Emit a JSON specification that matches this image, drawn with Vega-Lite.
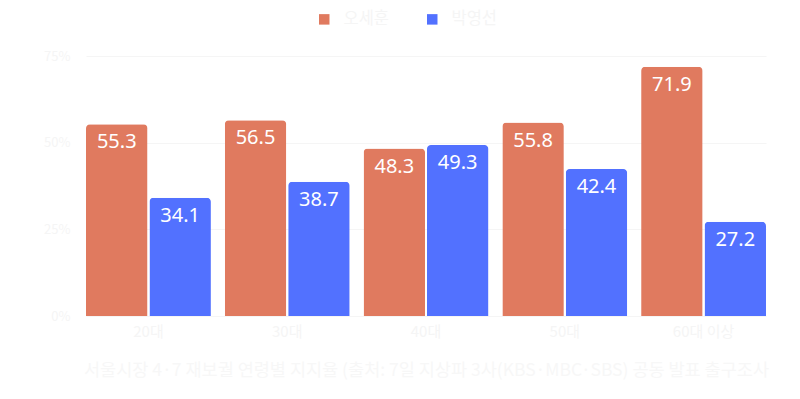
{
  "$schema": "https://vega.github.io/schema/vega-lite/v6.json",
  "autosize": {"type": "none"},
  "width": 680,
  "height": 260,
  "padding": {"left": 86, "top": 56, "right": 34, "bottom": 83},
  "background": "white",
  "config": {
    "view": {"stroke": null},
    "font": "Noto Sans",
    "axis": {"labelFont": "Noto Sans CJK KR", "titleFont": "Noto Sans CJK KR"},
    "legend": {"labelFont": "Noto Sans CJK KR"}
  },
  "data": {
    "values": [
      {"age": "20대", "candidate": "오세훈", "value": 55.3},
      {"age": "20대", "candidate": "박영선", "value": 34.1},
      {"age": "30대", "candidate": "오세훈", "value": 56.5},
      {"age": "30대", "candidate": "박영선", "value": 38.7},
      {"age": "40대", "candidate": "오세훈", "value": 48.3},
      {"age": "40대", "candidate": "박영선", "value": 49.3},
      {"age": "50대", "candidate": "오세훈", "value": 55.8},
      {"age": "50대", "candidate": "박영선", "value": 42.4},
      {"age": "60대 이상", "candidate": "오세훈", "value": 71.9},
      {"age": "60대 이상", "candidate": "박영선", "value": 27.2}
    ]
  },
  "encoding": {
    "x": {
      "field": "age", "type": "nominal",
      "sort": ["20대", "30대", "40대", "50대", "60대 이상"],
      "scale": {"paddingInner": 0.1, "paddingOuter": 0},
      "axis": {
        "labelAngle": 0, "domain": false, "ticks": false,
        "labelFontSize": 15, "labelColor": "#f5f5f5", "labelPadding": 8,
        "title": "서울시장 4·7 재보궐 연령별 지지율  (출처: 7일 지상파 3사(KBS·MBC·SBS) 공동 발표 출구조사",
        "titleFontSize": 17.5, "titleFontWeight": "normal", "titleColor": "#f7f7f7", "titlePadding": 22
      }
    },
    "xOffset": {
      "field": "candidate", "type": "nominal",
      "sort": ["오세훈", "박영선"],
      "scale": {"paddingInner": 0.03}
    },
    "y": {
      "field": "value", "type": "quantitative",
      "scale": {"domain": [0, 75]},
      "axis": {
        "values": [0, 25, 50, 75],
        "labelExpr": "datum.value + '%'",
        "domain": false, "ticks": false, "title": null,
        "labelFontSize": 13, "labelColor": "#f5f5f5", "labelPadding": 16,
        "gridColor": "#f5f5f5"
      }
    }
  },
  "layer": [
    {
      "mark": {"type": "bar", "cornerRadiusTopLeft": 4, "cornerRadiusTopRight": 4},
      "encoding": {
        "color": {
          "field": "candidate", "type": "nominal",
          "scale": {"domain": ["오세훈", "박영선"], "range": ["#E07A5F", "#5271FF"]},
          "legend": {
            "title": null, "orient": "none", "direction": "horizontal",
            "legendX": 230, "legendY": -45,
            "symbolType": "square", "symbolSize": 110, "symbolStrokeWidth": 0,
            "labelFontSize": 16.5, "labelColor": "#f5f5f5", "columnPadding": 34, "labelOffset": 11
          }
        }
      }
    },
    {
      "mark": {"type": "text", "baseline": "top", "dy": 8, "fontSize": 20, "color": "white", "font": "Noto Sans"},
      "encoding": {
        "text": {"field": "value", "type": "quantitative", "format": ".1f"}
      }
    }
  ]
}
